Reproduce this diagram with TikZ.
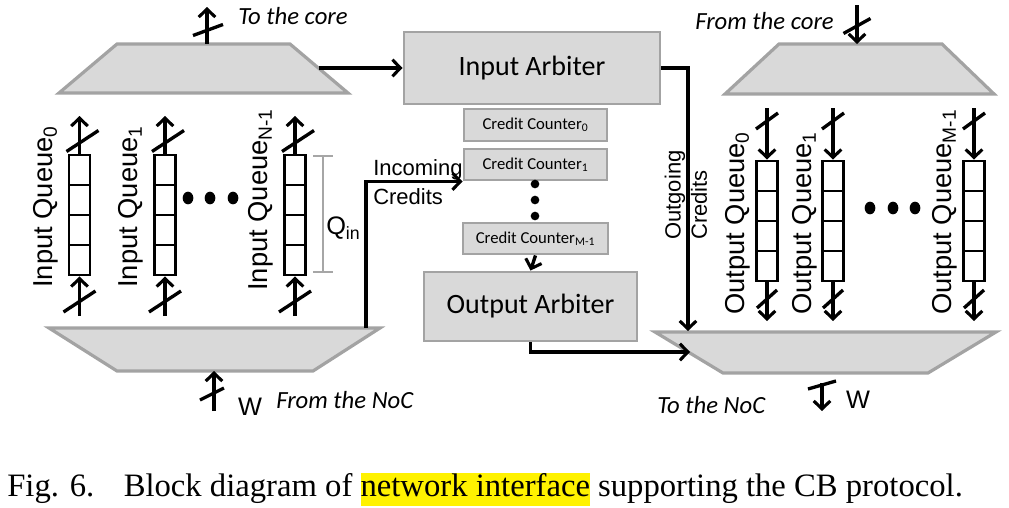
\documentclass[tikz,border=0pt]{standalone}
\usepackage{fontspec}
\setmainfont{Liberation Serif}
\newfontfamily\calfont{Carlito}
\newfontfamily\arifont{Liberation Sans}
\usetikzlibrary{arrows.meta,calc,shapes.geometric}
\definecolor{blkfill}{HTML}{D9D9D9}
\definecolor{blkdraw}{HTML}{A3A3A3}
\definecolor{dimgray}{HTML}{A6A6A6}
\newcommand\busmark[3]{\draw[busbar] ($(#1)+(-#2,#3)$) -- ($(#1)+(#2,-#3)$);}
\begin{document}
\begin{tikzpicture}[x=0.75pt,y=-0.75pt,
  trap/.style={fill=blkfill,draw=blkdraw,line width=2.4pt,line join=miter},
  blk/.style={rectangle,fill=blkfill,draw=blkdraw,line width=2.2pt,inner sep=0pt,font=\calfont\fontsize{21}{21}\selectfont},
  ccbox/.style={blk,font=\calfont\fontsize{12.5}{12.5}\selectfont},
  conn/.style={line width=2.5pt,-{Straight Barb[length=6pt,width=12.5pt,line width=2.3pt]}},
  busbar/.style={line width=2.5pt},
  qbox/.style={rectangle,draw,line width=2.2pt,minimum width=15.75pt,minimum height=22.5pt,inner sep=0pt},
  qlabel/.style={rotate=90,anchor=west,inner sep=0pt,font=\arifont\fontsize{20.5}{20.5}\selectfont},
  smalltxt/.style={font=\arifont\fontsize{16.5}{19}\selectfont,inner sep=0pt},
  itlabel/.style={font=\calfont\itshape\fontsize{18.5}{18.5}\selectfont,inner sep=0pt,anchor=west},
  bigdot/.style={ellipse,fill,minimum width=8pt,minimum height=9.5pt,inner sep=0pt},
  dimline/.style={draw=dimgray,line width=1pt},
]
\useasboundingbox (0,0) rectangle (1009,507);

% ---------- trapezoids ----------
\draw[trap] (117,44) -- (290,44) -- (348,93) -- (59,93) -- cycle;
\draw[trap] (779,44) -- (942,44) -- (994,94) -- (725,94) -- cycle;
\draw[trap] (49,328) -- (380,328) -- (313,371) -- (117,371) -- cycle;
\draw[trap] (655,332) -- (996,332) -- (928,373) -- (723,373) -- cycle;

\coordinate (tltop) at (207,44);
\coordinate (tlright) at (319,68);
\coordinate (trtop) at (857,44);
\coordinate (blbot) at (214,371);
\coordinate (bltopr) at (366,328);
\coordinate (brleft) at (690,352);
\coordinate (brtop) at (688,331);
\coordinate (brbot) at (822,383);

\coordinate (tocore) at (207,7);
\coordinate (fromcore) at (857,5);
\coordinate (fromnoc) at (214,411);
\coordinate (tonoc) at (822,411);

% ---------- arbiter blocks ----------
\node[blk,minimum width=192pt,minimum height=54pt] (ia) at (532,68) {Input Arbiter};
\node[blk,minimum width=159.75pt,minimum height=51.75pt] (oa) at (530.5,306.5) {Output Arbiter};
\node[ccbox,minimum width=107.25pt,minimum height=24pt] (cc0) at (535.5,125) {Credit Counter\textsubscript{0}};
\node[ccbox,minimum width=107.25pt,minimum height=23.25pt] (cc1) at (535.5,164.5) {Credit Counter\textsubscript{1}};
\node[ccbox,minimum width=108.75pt,minimum height=23.25pt] (ccm) at (535.5,238.5) {Credit Counter\textsubscript{M-1}};
\node[bigdot,minimum width=6.5pt,minimum height=6.5pt] (cd1) at (535,184) {};
\node[bigdot,minimum width=6.5pt,minimum height=6.5pt] (cd2) at (535,200) {};
\node[bigdot,minimum width=6.5pt,minimum height=6.5pt] (cd3) at (535,216) {};

% ---------- input queues ----------
\foreach \n/\x in {i0/79.5,i1/165,i2/295}{
  \foreach \k/\y in {a/170,b/200,c/230,d/260}{
    \node[qbox] (\n\k) at (\x,\y) {};
  }
  \coordinate (\n top) at (\x,116);
  \coordinate (\n bot) at (\x,316);
  \draw[conn] (\n a.north) -- (\n top);
  \draw[conn] (\n bot) -- (\n d.south);
  \busmark{\x+3,141}{16}{10.5}
  \busmark{\x,301.5}{16}{10.5}
}
\node[qlabel] (il0) at (46,288) {Input Queue\textsubscript{0}};
\node[qlabel] (il1) at (131,288) {Input Queue\textsubscript{1}};
\node[qlabel] (il2) at (261,291) {Input Queue\textsubscript{N-1}};
\node[bigdot] (id1) at (188,198) {};
\node[bigdot] (id2) at (210,198) {};
\node[bigdot] (id3) at (233,198) {};

% Q_in dimension
\coordinate (qt) at (323,156);
\coordinate (qb) at (323,272);
\draw[dimline] (qt) -- (qb);
\draw[dimline] ($(qt)+(-10,0)$) -- ($(qt)+(10,0)$);
\draw[dimline] ($(qb)+(-10,0)$) -- ($(qb)+(10,0)$);
\node[font=\arifont\fontsize{19}{19}\selectfont,inner sep=0pt,anchor=west] (qin) at (326,228) {Q\textsubscript{in}};

% ---------- output queues ----------
\foreach \n/\x in {o0/767,o1/833,o2/974}{
  \foreach \k/\y in {a/176,b/206,c/236,d/266}{
    \node[qbox] (\n\k) at (\x,\y) {};
  }
  \coordinate (\n top) at (\x,108);
  \coordinate (\n bot) at (\x,321);
  \draw[conn] (\n top) -- (\n a.north);
  \draw[conn] (\n d.south) -- (\n bot);
  \busmark{\x,121}{11}{8}
  \busmark{\x,299}{10}{9}
}
\node[qlabel] (ol0) at (738,315) {Output Queue\textsubscript{0}};
\node[qlabel] (ol1) at (805,315) {Output Queue\textsubscript{1}};
\node[qlabel] (ol2) at (945,315) {Output Queue\textsubscript{M-1}};
\node[bigdot] (od1) at (870,208) {};
\node[bigdot] (od2) at (893,208) {};
\node[bigdot] (od3) at (915,208) {};

% ---------- connectors ----------
\draw[conn] (tlright) -- (ia.west);
\draw[conn] (tltop) -- (tocore);
\busmark{208,30}{15}{5.5}
\draw[conn] (fromcore) -- (trtop);
\busmark{857,26}{13.5}{7.5}
\draw[conn] (fromnoc) -- (blbot);
\busmark{212,394}{12}{6}
\draw[conn] (brbot) -- (tonoc);
\busmark{822,385}{14}{4}

\draw[conn] (bltopr) |- (cc1.south west);
\draw[conn] (ccm.south) -- (oa.north);
\draw[conn] (oa.south) |- (brleft);
\draw[conn] (ia.east) -| (brtop);

% ---------- labels ----------
\node[itlabel] (ltc) at (238,16) {To the core};
\node[itlabel] (lfc) at (695,21) {From the core};
\node[itlabel] (lfn) at (276,400) {From the NoC};
\node[itlabel] (ltn) at (657,405) {To the NoC};
\node[smalltxt,font=\arifont\fontsize{19}{19}\selectfont] (w1) at (250,407) {W};
\node[smalltxt,font=\arifont\fontsize{19}{19}\selectfont] (w2) at (858,400) {W};
\node[smalltxt,anchor=west] (inc1) at (373,170) {Incoming};
\node[smalltxt,anchor=west] (inc2) at (373,197) {Credits};
\node[smalltxt,rotate=90,anchor=west] (out1) at (675,240) {Outgoing};
\node[smalltxt,rotate=90,anchor=west] (out2) at (699,240) {Credits};

% ---------- caption ----------
\node[anchor=base west,inner sep=0pt,font=\fontsize{24.5}{24.5}\selectfont] (cap) at (7,496)
  {Fig. 6.\hspace{0.9em}Block diagram of {\fboxsep=0pt\colorbox{yellow}{\strut network interface}} supporting the CB protocol.};
\end{tikzpicture}
\end{document}
